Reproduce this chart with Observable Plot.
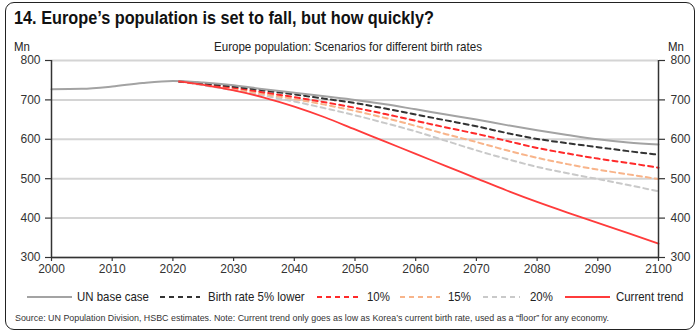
<!DOCTYPE html>
<html><head><meta charset="utf-8">
<script src="https://cdn.jsdelivr.net/npm/d3@7"></script>
<script src="https://cdn.jsdelivr.net/npm/@observablehq/plot@0.6"></script>
<style>
body{margin:0;background:#fff;width:700px;height:336px;overflow:hidden;position:relative;font-family:"Liberation Sans",Arial,sans-serif;color:#222;}
#frame{position:absolute;left:5px;top:2px;width:690px;height:328px;border:1.5px solid #222;border-radius:9px;box-sizing:border-box;}
.sx{display:inline-block;transform-origin:0 50%;white-space:nowrap;}
#title{position:absolute;left:14px;top:8px;font-weight:bold;font-size:17.5px;color:#111;}
#title .sx{transform:scaleX(0.93);}
#mnL{position:absolute;left:14px;top:39px;font-size:13px;}
#mnR{position:absolute;left:668px;top:39px;font-size:13px;}
.n88{transform:scaleX(0.88);}
#sub{position:absolute;left:214px;top:39px;font-size:13px;}
#sub .sx{transform:scaleX(0.89);}
#chart{position:absolute;left:0;top:40px;}
#legend{position:absolute;left:0;top:288px;width:700px;height:18px;}
.li{position:absolute;top:0;font-size:13px;white-space:nowrap;height:18px;line-height:18px;}
.li svg{position:absolute;left:0;top:6px;}
.li .sx{position:absolute;top:0;transform:scaleX(0.88);}
#src{position:absolute;left:15px;top:312px;font-size:9.5px;color:#333;}
#src .sx{transform:scaleX(0.935);}
</style></head>
<body>
<div id="frame"></div>
<div id="title"><span class="sx">14. Europe’s population is set to fall, but how quickly?</span></div>
<div id="mnL"><span class="sx n88">Mn</span></div>
<div id="sub"><span class="sx">Europe population: Scenarios for different birth rates</span></div>
<div id="mnR"><span class="sx n88">Mn</span></div>
<div id="chart"></div>
<div id="legend"></div>
<div id="src"><span class="sx">Source: UN Population Division, HSBC estimates. Note: Current trend only goes as low as Korea’s current birth rate, used as a “floor” for any economy.</span></div>
<script>
const baseYears = [2000,2005,2010,2015,2020,2025,2030,2035,2040,2045,2050,2055,2060,2065,2070,2075,2080,2085,2090,2095,2100];
const unBase    = [727,728,734,743,748,744,737,727,718,709,700,689,676,663,650,636,623,611,600,592,587];
const scenYears = [2021,2025,2030,2035,2040,2045,2050,2055,2060,2065,2070,2075,2080,2085,2090,2095,2100];
const lower5    = [747,742,734,724,714,703,692,678,663,648,633,616,601,590,580,570,561];
const lower10   = [747,740,731,719,707,694,680,664,647,630,614,596,578,564,551,540,528];
const lower15   = [747,739,728,715,702,688,672,654,634,613,593,572,553,537,523,511,499];
const lower20   = [747,737,725,711,696,679,661,641,620,596,572,550,530,514,499,484,468];
const current   = [747,738,724,706,683,656,625,594,563,532,501,470,441,414,388,362,335];
const xTicks = [2000,2010,2020,2030,2040,2050,2060,2070,2080,2090,2100];
const yTicks = [300,400,500,600,700,800];
const seriesNames = ["UN base case","Birth rate 5% lower","10%","15%","20%","Current trend"];

const series = [
  {name:seriesNames[0], years:baseYears, vals:unBase, color:"#a3a3a3", dash:null, w:2},
  {name:seriesNames[1], years:scenYears, vals:lower5, color:"#333333", dash:"5,4", w:2},
  {name:seriesNames[2], years:scenYears, vals:lower10, color:"#ff2a2a", dash:"5,4", w:2},
  {name:seriesNames[3], years:scenYears, vals:lower15, color:"#f8b48a", dash:"5,4", w:2},
  {name:seriesNames[4], years:scenYears, vals:lower20, color:"#c9c9c9", dash:"5,4", w:2},
  {name:seriesNames[5], years:scenYears, vals:current, color:"#ff3b3b", dash:null, w:1.8}
];
const order = [4,3,2,1,0,5];
const lineMarks = order.map(i => {
  const s = series[i];
  const data = s.years.map((y,k)=>({year:y, value:s.vals[k]}));
  return Plot.line(data, {x:"year", y:"value", stroke:s.color, strokeWidth:s.w, strokeDasharray:s.dash || undefined, curve:"monotone-x"});
});

const chart = Plot.plot({
  width:700, height:250,
  marginTop:20, marginBottom:33, marginLeft:51, marginRight:42,
  x:{domain:[2000,2100]},
  y:{domain:[300,800]},
  style:{fontSize:"12px", fontFamily:"'Liberation Sans', Arial, sans-serif", color:"#333", background:"transparent"},
  marks:[
    Plot.gridY(yTicks, {stroke:"#d4d4d4", strokeOpacity:1, strokeWidth:2}),
    ...lineMarks,
    Plot.axisY(yTicks, {anchor:"left", tickSize:6, tickPadding:5, label:null, stroke:"#333", fill:"#333", strokeWidth:1.2}),
    Plot.axisY(yTicks, {anchor:"right", tickSize:6, tickPadding:6, label:null, stroke:"#333", fill:"#333", strokeWidth:1.2}),
    Plot.axisX(xTicks, {anchor:"bottom", tickSize:4, tickPadding:3, tickFormat:d=>String(d), label:null, stroke:"#333", fill:"#333", strokeWidth:1.2}),
    Plot.ruleX([2000], {stroke:"#333", strokeWidth:1.5}),
    Plot.ruleX([2100], {stroke:"#333", strokeWidth:1.5}),
    Plot.ruleY([300], {stroke:"#333", strokeWidth:1.5})
  ]
});
document.getElementById("chart").appendChild(chart);

// legend
const legendX = [27,160,317,400,483,565];
const legendW = [45,40,41,40,37,45];
const legendGap = [5,8,9,8,10,6];
const leg = document.getElementById("legend");
series.forEach((s,i)=>{
  const d = document.createElement("div");
  d.className = "li";
  d.style.left = legendX[i]+"px";
  const w = legendW[i];
  d.innerHTML = `<svg width="${w}" height="6"><line x1="0" x2="${w}" y1="3" y2="3" stroke="${s.color}" stroke-width="2" ${s.dash?`stroke-dasharray="${s.dash}"`:""}/></svg><span class="sx" style="left:${w+legendGap[i]}px">${s.name}</span>`;
  leg.appendChild(d);
});
</script>
</body></html>
